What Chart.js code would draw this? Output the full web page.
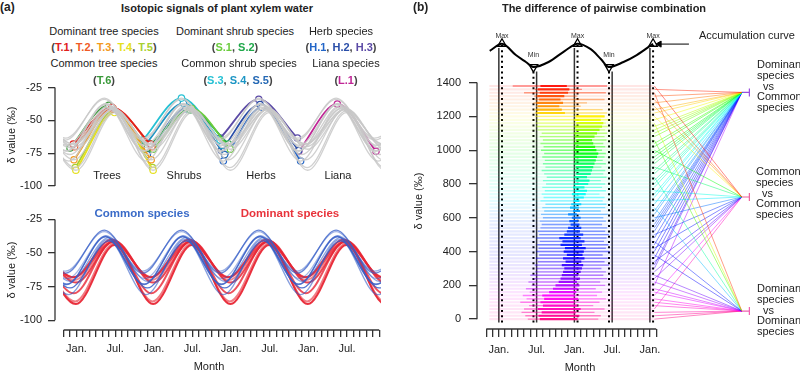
<!DOCTYPE html>
<html>
<head>
<meta charset="utf-8">
<script src="https://cdn.jsdelivr.net/npm/chart.js@4.4.1/dist/chart.umd.min.js"></script>
<style>
  body { margin: 0; background: #fff; }
  #page { position: relative; width: 800px; height: 373px; overflow: hidden; font-family: "Liberation Sans", Arial, sans-serif; color: #222; }
  #page canvas { position: absolute; }
  .t { position: absolute; white-space: nowrap; font-size: 11px; line-height: 12px; }
  .c { transform: translateX(-50%); }
  .b { font-weight: bold; }
  .ylab { position: absolute; white-space: nowrap; font-size: 11px; transform: translate(-50%, -50%) rotate(-90deg); }
  .grp { position: absolute; white-space: nowrap; font-size: 11px; line-height: 10.8px; }
  .grp span { display: block; }
</style>
</head>
<body>
<div id="page">
  <canvas id="topChart" width="400" height="125" style="left:0;top:75px"></canvas>
  <canvas id="bottomChart" width="400" height="173" style="left:0;top:200px"></canvas>
  <canvas id="pairChart" width="400" height="373" style="left:400px;top:0"></canvas>

  <div class="t b" style="left:0;top:1px;font-size:12px">(a)</div>
  <div class="t c b" style="left:217px;top:2px">Isotopic signals of plant xylem water</div>

  <div class="t c" style="left:104px;top:25px">Dominant tree species</div>
  <div class="t c b" style="left:104px;top:41px;color:#444">(<span style="color:#e0201c">T.1</span>, <span style="color:#f05a24">T.2</span>, <span style="color:#f39a1e">T.3</span>, <span style="color:#e5e020">T.4</span>, <span style="color:#a8d030">T.5</span>)</div>
  <div class="t c" style="left:104px;top:57px">Common tree species</div>
  <div class="t c b" style="left:104px;top:74px;color:#444">(<span style="color:#3a9a3a">T.6</span>)</div>

  <div class="t c" style="left:235px;top:25px">Dominant shrub species</div>
  <div class="t c b" style="left:235px;top:41px;color:#444">(<span style="color:#6acc3c">S.1</span>, <span style="color:#1fa84a">S.2</span>)</div>
  <div class="t c" style="left:239px;top:57px">Common shrub species</div>
  <div class="t c b" style="left:238px;top:74px;color:#444">(<span style="color:#26c1d4">S.3</span>, <span style="color:#1c95c4">S.4</span>, <span style="color:#2468b4">S.5</span>)</div>

  <div class="t c" style="left:341px;top:25px">Herb species</div>
  <div class="t c b" style="left:341px;top:41px;color:#444">(<span style="color:#2366c8">H.1</span>, <span style="color:#2a4ea8">H.2</span>, <span style="color:#5b4aa6">H.3</span>)</div>
  <div class="t c" style="left:346px;top:57px">Liana species</div>
  <div class="t c b" style="left:346px;top:74px;color:#444">(<span style="color:#c02596">L.1</span>)</div>

  <div class="t c" style="left:107px;top:169px">Trees</div>
  <div class="t c" style="left:184px;top:169px">Shrubs</div>
  <div class="t c" style="left:261px;top:169px">Herbs</div>
  <div class="t c" style="left:338px;top:169px">Liana</div>

  <div class="t c b" style="left:142px;top:207px;font-size:11.5px;color:#3a6bc8">Common species</div>
  <div class="t c b" style="left:290px;top:207px;font-size:11.5px;color:#e8343c">Dominant species</div>

  <div class="ylab" style="left:11px;top:135px">δ value (‰)</div>
  <div class="ylab" style="left:11px;top:270px">δ value (‰)</div>
  <div class="t c" style="left:209px;top:360px">Month</div>

  <div class="t b" style="left:413px;top:1px;font-size:12px">(b)</div>
  <div class="t c b" style="left:604px;top:2px">The difference of pairwise combination</div>
  <div class="t" style="left:699px;top:29px">Accumulation curve</div>
  <div class="ylab" style="left:418px;top:201px">δ value (‰)</div>
  <div class="t c" style="left:580px;top:361px">Month</div>

  <div class="grp" style="left:757px;top:59px"><span>Dominant</span><span>species</span><span style="padding-left:6px">vs</span><span>Common</span><span>species</span></div>
  <div class="grp" style="left:756px;top:166px"><span>Common</span><span>species</span><span style="padding-left:6px">vs</span><span>Common</span><span>species</span></div>
  <div class="grp" style="left:757px;top:283px"><span>Dominant</span><span>species</span><span style="padding-left:6px">vs</span><span>Dominant</span><span>species</span></div>
</div>

<script>
// ---------- panel (a): one seasonal cycle per species ----------
const speciesNames = ['T.1','T.2','T.3','T.4','T.5','T.6','S.1','S.2','S.3','S.4','S.5','H.1','H.2','H.3','L.1'];
const isDominant   = [1, 1, 1, 1, 1, 0, 1, 1, 0, 0, 0, 0, 0, 0, 0];
const peakValue    = [-40, -41, -41.5, -44, -43, -38.5, -41, -42, -33, -37, -41, -40, -38, -34, -37.5];
const troughValue  = [-68, -70, -80, -88, -86, -71, -72, -68, -65, -69, -76, -81, -73, -63.5, -73.5];
const peakMonth    = [5.5, 5.7, 5.6, 5.9, 5.8, 5.0, 5.9, 5.6, 4.3, 4.6, 5.0, 4.8, 4.5, 4.3, 4.5]; // months after Jan.
const shownCycle   = [0, 0, 0, 0, 0, 0, 1, 1, 1, 1, 1, 2, 2, 2, 3]; // trees, shrubs, herbs, liana
const speciesColor = ['#e0201c','#f05a24','#f39a1e','#e5e020','#a8d030','#3a9a3a','#6acc3c','#1fa84a',
                      '#26c1d4','#1c95c4','#2468b4','#2366c8','#2a4ea8','#5b4aa6','#c02596'];
const yTicksA = [-100, -75, -50, -25];
const monthTicksA = [-2,-1,0,1,2,3,4,5,6,7,8,9,10,11,12,13,14,15,16,17,18,19,20,21,22,23,24,25,26,27,28,29,30,31,32,33,34,35,36,37,38,39,40,41,42,43,44,45,46,47];

// ---------- panel (b): pairwise combinations ----------
const pairValue = [0,20,40,60,80,100,120,140,160,180,200,220,240,260,280,300,320,340,360,380,
  400,420,440,460,480,500,520,540,560,580,600,620,640,660,680,700,720,740,760,780,
  800,820,840,860,880,900,920,940,960,980,1000,1020,1040,1060,1080,1100,1120,1140,1160,1180,
  1200,1220,1240,1260,1280,1300,1320,1340,1360,1380];
const segStart = [4.6,4.2,3.6,4.0,4.8,3.4,4.4,3.8,4.9,4.3, 5.2,4.7,5.5,5.0,5.8,6.0,5.7,6.2,5.9,6.4,
  6.0,6.3,6.1,6.5,6.0,6.4,6.2,6.6,6.8,6.5, 7.0,6.7,7.2,6.9,7.4,6.6,7.1,6.8,7.3,6.9,
  7.5,7.0,7.6,7.2,6.8,7.4,7.0,7.3,6.9,7.2, 6.7,7.1,6.6,7.0,6.5,6.8,6.2,6.0,5.9,6.1,
  5.8,5.7,5.6,5.9,5.5,5.8,5.6,4.0,5.7,2.2];
const segEnd = [15.8,16.2,15.2,16.8,15.0,16.0,17.0,15.6,16.4,15.4, 16.9,16.1,17.2,16.6,17.0,16.3,17.5,16.8,17.3,16.5,
  17.6,17.0,17.4,16.7,17.1,17.5,16.9,17.2,16.4,17.0, 16.6,17.3,16.2,16.9,17.1,16.5,16.8,16.0,17.0,16.4,
  16.9,16.2,17.1,16.6,16.9,16.3,17.0,16.5,16.8,17.0, 16.4,16.9,16.6,17.1,16.8,17.2,16.9,17.3,17.0,17.4,
  16.8,17.2,16.5,13.0,14.0,16.8,12.5,17.0,13.2,17.2];
const coreStart = [6.5,6.3,6.8,6.2,7.0,6.6,7.2,6.9,8.0,8.6, 9.0,9.5,9.8,10.0,10.2,10.4,10.0,10.6,10.2,10.8,
  10.3,10.5,9.8,10.1,9.6,10.4,10.8,11.0,11.4,11.2, 11.6,11.0,11.8,11.3,11.5,11.9,12.0,11.6,12.1,11.8,
  12.0,12.2,12.0,12.3,12.1,12.2,12.0,12.1,12.0,12.1, 12.0,12.2,12.0,12.3,12.1,12.0,12.2,12.1,12.3,12.0,
  12.2,6.0,6.0,6.2,6.0,6.4,6.1,6.5,6.2,6.6];
const coreEnd = [12.5,12.8,12.2,13.0,12.4,12.0,12.6,12.1,12.3,12.5, 12.8,12.4,12.9,12.6,13.0,13.2,13.4,13.1,13.6,13.3,
  13.5,13.8,13.2,13.6,13.0,13.4,12.9,13.1,12.8,12.6, 13.0,12.4,12.9,12.7,13.1,12.8,13.5,13.8,14.0,13.6,
  14.2,14.4,14.0,14.6,14.8,15.0,15.2,15.4,15.6,15.8, 15.5,15.3,15.0,14.8,15.2,15.6,16.0,16.4,16.6,16.2,
  16.8,10.5,10.0,9.6,10.2,9.8,10.4,11.0,11.2,10.8];
// 0 = dominant vs common, 1 = common vs common, 2 = dominant vs dominant
const pairGroup = [2,2,2,1,2,2,2,1,2,2, 0,2,1,2,1,0,0,1,0,2, 0,1,0,2,0,1,0,0,0,0, 1,0,0,2,0,1,0,0,1,0,
  0,0,2,0,0,1,0,0,0,0, 1,0,0,2,0,0,0,0,2,0, 1,0,0,1,0,1,0,2,0,1];
const fullSpan = [-1.5, 24.6];
const fanFrom = 24.7;
const groupMonth = 38.6;
const groupValue = [1342, 723, 48];
const groupPinEnd = 39.8;
const groupPinColor = ['#9b4de0', '#f0609c', '#f060b0'];

const accMonths = [-1.45, 0.5, 2.7, 4.3, 5.5, 7.9, 10.5, 12.5, 14.6, 16.2, 17.5, 19.8, 21.9, 24.5];
const accValues = [1588, 1630, 1563, 1522, 1492, 1522, 1588, 1630, 1598, 1540, 1492, 1522, 1563, 1630];
const extremeMonths = [0.5, 5.5, 12.5, 17.5, 24.5];
const extremeValues = [1630, 1492, 1630, 1492, 1630];
const extremeKind = ['Max', 'Min', 'Max', 'Min', 'Max'];
const guideMonths = [0, 6, 12, 18, 24];
const guideTop = [1605, 1465, 1605, 1465, 1605];
const guideBottom = -20;
const arrowMonths = [30.2, 25.5];
const arrowValue = 1628;
const yTicksB = [0, 200, 400, 600, 800, 1000, 1200, 1400];
const monthTicksB = [-2,-1,0,1,2,3,4,5,6,7,8,9,10,11,12,13,14,15,16,17,18,19,20,21,22,23,24,25];

// ---------- helpers ----------
Chart.defaults.font.family = '"Liberation Sans", Arial, sans-serif';
Chart.defaults.color = '#222';
const AXIS = '#333';

function monthName(v) {
  const m = ((v % 12) + 12) % 12;
  return m === 0 ? 'Jan.' : (m === 6 ? 'Jul.' : '');
}

// R style axes: lines only between the first and last tick
const rAxes = {
  id: 'rAxes',
  afterDraw(chart, args, o) {
    const ctx = chart.ctx, a = chart.chartArea;
    ctx.save();
    ctx.strokeStyle = AXIS;
    ctx.lineWidth = 1.3;
    if (o.y) {
      const s = chart.scales.y;
      ctx.beginPath();
      ctx.moveTo(a.left, s.getPixelForValue(o.y[0]));
      ctx.lineTo(a.left, s.getPixelForValue(o.y[1]));
      ctx.stroke();
    }
    if (o.x) {
      const s = chart.scales.x;
      ctx.beginPath();
      ctx.moveTo(s.getPixelForValue(o.x[0]), a.bottom);
      ctx.lineTo(s.getPixelForValue(o.x[1]), a.bottom);
      ctx.stroke();
    }
    ctx.restore();
  }
};

function cyclePoints(i, kFrom, kTo) {
  const pts = [];
  for (let k = kFrom; k <= kTo; k++) {
    pts.push({ x: peakMonth[i] + 6 * k, y: k % 2 === 0 ? peakValue[i] : troughValue[i] });
  }
  return pts;
}

const innerClip = { left: -8, top: false, right: 0, bottom: false };

function yAxisA(min, max) {
  return {
    type: 'linear', min: min, max: max, bounds: 'data',
    border: { display: false },
    grid: { drawOnChartArea: false, tickLength: 7, color: AXIS, tickColor: AXIS, lineWidth: 1.3 },
    ticks: { font: { size: 11 }, color: '#222', padding: 6, callback: v => String(v) },
    afterBuildTicks: s => { s.ticks = yTicksA.map(v => ({ value: v })); },
    afterFit: s => { s.width = 55; }
  };
}

// ---------- top chart ----------
const topSets = speciesNames.map((n, i) => ({
  label: n + ' all',
  data: cyclePoints(i, -2, 8),
  borderColor: 'rgba(200,200,200,0.85)',
  borderWidth: 1.3,
  pointRadius: 0,
  cubicInterpolationMode: 'monotone',
  clip: innerClip
}));
speciesNames.forEach((n, i) => {
  const c = shownCycle[i];
  topSets.push({
    label: n,
    data: cyclePoints(i, 2 * c - 1, 2 * c + 1),
    borderColor: speciesColor[i],
    borderWidth: 1.8,
    pointRadius: 3.2,
    pointBackgroundColor: '#fff',
    pointBorderColor: speciesColor[i],
    pointBorderWidth: 1.2,
    cubicInterpolationMode: 'monotone',
    clip: false
  });
});

new Chart(document.getElementById('topChart'), {
  type: 'line',
  data: { datasets: topSets },
  options: {
    responsive: false, animation: false, events: [],
    layout: { padding: { top: 10, right: 19, bottom: 14, left: 0 } },
    plugins: { legend: { display: false }, tooltip: { enabled: false }, rAxes: { y: [-25, -100] } },
    scales: {
      x: { type: 'linear', display: false, min: -3.34, max: 47.28 },
      y: yAxisA(-100, -25)
    }
  },
  plugins: [rAxes]
});

// ---------- bottom chart ----------
const blueAlpha = [0.55, 0.75, 0.45, 0.85, 0.6, 0.7, 0.5, 0.8];
const redAlpha = [0.9, 0.55, 0.8, 0.95, 0.6, 0.85, 0.7];
const bottomSets = [];
let nb = 0, nr = 0;
speciesNames.forEach((n, i) => {
  if (isDominant[i]) return;
  bottomSets.push({
    label: n, data: cyclePoints(i, -2, 8),
    borderColor: `rgba(55,95,200,${blueAlpha[nb++ % blueAlpha.length]})`,
    borderWidth: 1.3, pointRadius: 0, cubicInterpolationMode: 'monotone', clip: innerClip
  });
});
speciesNames.forEach((n, i) => {
  if (!isDominant[i]) return;
  bottomSets.push({
    label: n, data: cyclePoints(i, -2, 8),
    borderColor: `rgba(232,38,52,${redAlpha[nr++ % redAlpha.length]})`,
    borderWidth: 2, pointRadius: 0, cubicInterpolationMode: 'monotone', clip: innerClip
  });
});

new Chart(document.getElementById('bottomChart'), {
  type: 'line',
  data: { datasets: bottomSets },
  options: {
    responsive: false, animation: false, events: [],
    layout: { padding: { top: 10, right: 19, bottom: 0, left: 0 } },
    plugins: { legend: { display: false }, tooltip: { enabled: false }, rAxes: { y: [-25, -100], x: [-2, 47] } },
    scales: {
      x: {
        type: 'linear', min: -3.34, max: 47.28, bounds: 'data',
        border: { display: false },
        grid: { drawOnChartArea: false, tickLength: 7, color: AXIS, tickColor: AXIS, lineWidth: 1.3 },
        ticks: { autoSkip: false, maxRotation: 0, padding: 5, font: { size: 11 }, color: '#222', callback: v => monthName(v) },
        afterBuildTicks: s => { s.ticks = monthTicksA.map(v => ({ value: v })); },
        afterFit: s => { s.height = 43; }
      },
      y: yAxisA(-107.28, -19.9)
    }
  },
  plugins: [rAxes]
});

// ---------- pairwise chart ----------
const hueStops = [[0, 330], [120, 305], [260, 265], [380, 240], [560, 225], [700, 185], [880, 150],
                  [1000, 120], [1120, 85], [1190, 60], [1260, 35], [1330, 15], [1390, 0]];
function hueFor(v) {
  for (let k = 1; k < hueStops.length; k++) {
    if (v <= hueStops[k][0]) {
      const [v0, h0] = hueStops[k - 1], [v1, h1] = hueStops[k];
      return h0 + (h1 - h0) * (v - v0) / (v1 - v0);
    }
  }
  return 0;
}
const rainbow = (v, a) => `hsla(${hueFor(v).toFixed(1)},100%,50%,${a})`;

function rows(from, to) {
  const pts = [];
  pairValue.forEach((v, i) => {
    const x0 = Array.isArray(from) ? from[i] : from;
    const x1 = Array.isArray(to) ? to[i] : to;
    pts.push({ x: x0, y: v }, { x: x1, y: v }, { x: x1, y: null });
  });
  return pts;
}
function rowSet(data, alpha, width) {
  return {
    data: data, borderWidth: width, pointRadius: 0, tension: 0, spanGaps: false,
    borderColor: rainbow(0, alpha), borderCapStyle: 'butt',
    segment: { borderColor: c => rainbow(c.p0.parsed.y, alpha) }
  };
}

const fanPts = [];
pairValue.forEach((v, i) => {
  fanPts.push({ x: fanFrom, y: v }, { x: groupMonth, y: groupValue[pairGroup[i]] }, { x: groupMonth, y: null });
});

const solidPts = [], dottedPts = [];
guideMonths.forEach((m, i) => {
  solidPts.push({ x: m, y: guideBottom }, { x: m, y: guideTop[i] }, { x: m, y: null });
});
extremeMonths.forEach((m, i) => {
  dottedPts.push({ x: m, y: guideBottom }, { x: m, y: extremeValues[i] }, { x: m, y: null });
});

const pinSets = groupValue.map((v, g) => ({
  data: [{ x: groupMonth, y: v }, { x: groupPinEnd, y: v }],
  borderColor: groupPinColor[g], borderWidth: 1.2, tension: 0,
  pointRadius: [0, 4], pointStyle: 'line', pointRotation: 90,
  pointBorderColor: groupPinColor[g], pointBorderWidth: 1.2
}));

const extremeLabels = {
  id: 'extremeLabels',
  afterDatasetsDraw(chart) {
    const ctx = chart.ctx, x = chart.scales.x, y = chart.scales.y;
    ctx.save();
    ctx.font = '7px "Liberation Sans", Arial, sans-serif';
    ctx.fillStyle = '#333';
    ctx.textAlign = 'center';
    ctx.textBaseline = 'middle';
    extremeMonths.forEach((m, i) => {
      const off = extremeKind[i] === 'Max' ? 8 : 11.5;
      ctx.fillText(extremeKind[i], x.getPixelForValue(m), y.getPixelForValue(extremeValues[i]) - off);
    });
    ctx.restore();
  }
};

new Chart(document.getElementById('pairChart'), {
  type: 'line',
  data: {
    datasets: [
      rowSet(rows(fullSpan[0], fullSpan[1]), 0.1, 2.2),
      rowSet(rows(segStart, segEnd), 0.45, 1.4),
      rowSet(rows(coreStart, coreEnd), 0.9, 2.2),
      rowSet(fanPts, 0.6, 0.8),
      { data: solidPts, borderColor: '#333', borderWidth: 1.5, pointRadius: 0, tension: 0 },
      { data: dottedPts, borderColor: '#000', borderWidth: 2, borderDash: [2, 3.3], borderCapStyle: 'butt', pointRadius: 0, tension: 0 },
      {
        data: accMonths.map((m, i) => ({ x: m, y: accValues[i] })),
        borderColor: '#000', borderWidth: 2, pointRadius: 0, cubicInterpolationMode: 'monotone'
      },
      {
        data: extremeMonths.map((m, i) => ({ x: m, y: extremeValues[i] })),
        showLine: false, pointStyle: 'triangle', pointRadius: 5,
        pointRotation: extremeKind.map(k => (k === 'Max' ? 0 : 180)),
        pointBackgroundColor: '#fff', pointBorderColor: '#000', pointBorderWidth: 1.3
      },
      {
        data: arrowMonths.map(m => ({ x: m, y: arrowValue })),
        borderColor: '#000', borderWidth: 1, tension: 0,
        pointRadius: [0, 3.5], pointStyle: 'triangle', pointRotation: 270,
        pointBackgroundColor: '#000', pointBorderColor: '#000'
      },
      ...pinSets
    ]
  },
  options: {
    responsive: false, animation: false, events: [],
    layout: { padding: { top: 10, right: 0, bottom: 0, left: 0 } },
    plugins: { legend: { display: false }, tooltip: { enabled: false }, rAxes: { y: [0, 1400], x: [-2, 25] } },
    scales: {
      x: {
        type: 'linear', min: -3.47, max: 46.84, bounds: 'data',
        border: { display: false },
        grid: { drawOnChartArea: false, tickLength: 8, color: AXIS, tickColor: AXIS, lineWidth: 1.3 },
        ticks: { autoSkip: false, maxRotation: 0, padding: 6, font: { size: 11 }, color: '#222', callback: v => monthName(v) },
        afterBuildTicks: s => { s.ticks = monthTicksB.map(v => ({ value: v })); },
        afterFit: s => { s.height = 44; }
      },
      y: {
        type: 'linear', min: -58.33, max: 1802.5, bounds: 'data',
        border: { display: false },
        grid: { drawOnChartArea: false, tickLength: 8, color: AXIS, tickColor: AXIS, lineWidth: 1.3 },
        ticks: { font: { size: 11 }, color: '#222', padding: 8, callback: v => String(v) },
        afterBuildTicks: s => { s.ticks = yTicksB.map(v => ({ value: v })); },
        afterFit: s => { s.width = 77; }
      }
    }
  },
  plugins: [rAxes, extremeLabels]
});
</script>
</body>
</html>
